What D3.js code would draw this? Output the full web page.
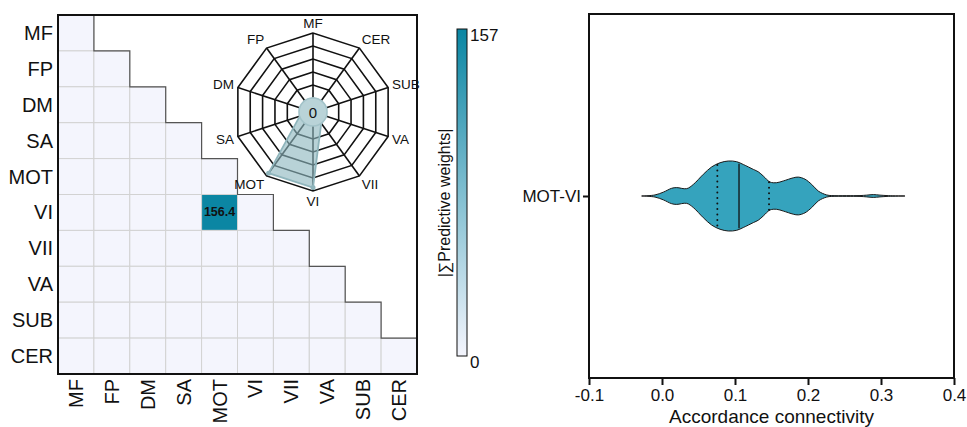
<!DOCTYPE html>
<html>
<head>
<meta charset="utf-8">
<script src="https://cdn.jsdelivr.net/npm/d3@7"></script>
<style>
  html, body { margin: 0; padding: 0; background: #fff; }
  svg { display: block; font-family: "Liberation Sans", Arial, sans-serif; }
</style>
</head>
<body>
<svg id="chart" width="967" height="427"></svg>
<script>
// ---------- DATA ----------
const networks = ["MF", "FP", "DM", "SA", "MOT", "VI", "VII", "VA", "SUB", "CER"];
// lower-triangle summed |predictive weights| (row, col), only MOT–VI non-zero
const weightRows = [
  [0],
  [0, 0],
  [0, 0, 0],
  [0, 0, 0, 0],
  [0, 0, 0, 0, 0],
  [0, 0, 0, 0, 156.4, 0],
  [0, 0, 0, 0, 0, 0, 0],
  [0, 0, 0, 0, 0, 0, 0, 0],
  [0, 0, 0, 0, 0, 0, 0, 0, 0],
  [0, 0, 0, 0, 0, 0, 0, 0, 0, 0]
];
const colorbarMax = 157;
const colorbarTicks = [0, 157];
const radarMax = 165;
const radarRings = 5;

// violin (MOT-VI accordance connectivity), density profile
const violinLabel = "MOT-VI";
const violinX = [-0.0279, -0.0096, 0.0018, 0.0132, 0.0201, 0.0338, 0.0429, 0.0566, 0.0680, 0.0795,
  0.0909, 0.1023, 0.1114, 0.1251, 0.1320, 0.1388, 0.1479, 0.1571, 0.1662, 0.1799, 0.1868, 0.1959,
  0.2051, 0.2142, 0.2256, 0.2325, 0.2530, 0.2712, 0.2804, 0.2895, 0.2986, 0.3100, 0.3329];
const violinDensity = [0, 0.03, 0.11, 0.22, 0.24, 0.21, 0.33, 0.62, 0.83, 0.95,
  1.0, 0.98, 0.90, 0.76, 0.69, 0.57, 0.40, 0.38, 0.43, 0.52, 0.54, 0.48,
  0.33, 0.14, 0.03, 0.012, 0.01, 0.012, 0.025, 0.04, 0.025, 0.01, 0];
const violinQ1 = 0.0758, violinMedian = 0.1055, violinQ3 = 0.1466;
const xTicks = [-0.1, 0.0, 0.1, 0.2, 0.3, 0.4];
const xLabel = "Accordance connectivity";
const colorbarTitle = "|∑Predictive weights|";

// ---------- DRAW ----------
const svg = d3.select("#chart");
const n = networks.length;

// Heatmap
const hm = { left: 58, top: 15, size: 359 };
const band = d3.scaleBand().domain(networks).range([0, hm.size]);
const cw = band.bandwidth();
const color = d3.scaleLinear().domain([0, colorbarMax]).range(["#f4f5fd", "#0a86a3"]);

const gH = svg.append("g").attr("transform", `translate(${hm.left},${hm.top})`);
const cells = [];
weightRows.forEach((row, i) => row.forEach((v, j) => cells.push({ r: networks[i], c: networks[j], v })));

gH.selectAll("rect.cell").data(cells).join("rect")
  .attr("x", d => band(d.c)).attr("y", d => band(d.r))
  .attr("width", cw).attr("height", cw)
  .attr("fill", d => color(d.v))
  .attr("stroke", "#d2d2d2").attr("stroke-width", 1);

// staircase boundary
let stair = `M${band(networks[0]) + cw},0`;
networks.forEach((name, i) => {
  const x = band(name) + cw;
  const y = band(name) + cw;
  stair += ` L${x},${y}`;
  if (i < n - 1) stair += ` L${x + cw},${y}`;
});
gH.append("path").attr("d", stair).attr("fill", "none").attr("stroke", "#555").attr("stroke-width", 1.2);

gH.selectAll("text.val").data(cells.filter(d => d.v > 0)).join("text")
  .attr("x", d => band(d.c) + cw / 2).attr("y", d => band(d.r) + cw / 2)
  .attr("text-anchor", "middle").attr("dominant-baseline", "central")
  .attr("font-size", 12.5).attr("font-weight", "bold").attr("fill", "#111")
  .text(d => d.v.toFixed(1));

// row labels
gH.selectAll("text.rl").data(networks).join("text")
  .attr("x", -5).attr("y", d => band(d) + cw / 2)
  .attr("text-anchor", "end").attr("dominant-baseline", "central")
  .attr("font-size", 20).attr("fill", "#111").text(d => d);
// column labels
gH.selectAll("text.cl").data(networks).join("text")
  .attr("transform", d => `translate(${band(d) + cw / 2},${hm.size + 5}) rotate(-90)`)
  .attr("text-anchor", "end").attr("dominant-baseline", "central")
  .attr("font-size", 20).attr("fill", "#111").text(d => d);

gH.append("rect").attr("width", hm.size).attr("height", hm.size)
  .attr("fill", "none").attr("stroke", "#111").attr("stroke-width", 2);

// Radar inset
const rc = { x: 313, y: 112, rIn: 14, rOut: 79 };
const rScale = d3.scaleLinear().domain([0, radarMax]).range([rc.rIn, rc.rOut]);
const netTotals = networks.map((name, k) => {
  let s = 0;
  weightRows.forEach((row, i) => row.forEach((v, j) => { if (i === k || j === k) s += v; }));
  return s;
});
const ang = k => -k * 2 * Math.PI / n; // counter-clockwise from top
const pt = (k, r) => [rc.x + r * Math.sin(ang(k)), rc.y - r * Math.cos(ang(k))];
const gR = svg.append("g");
const line = d3.line().curve(d3.curveLinearClosed);
const ringVals = d3.range(1, radarRings + 1).map(i => radarMax * i / radarRings);
ringVals.forEach(v => {
  gR.append("path").attr("d", line(networks.map((_, k) => pt(k, rScale(v)))))
    .attr("fill", "none").attr("stroke", "#111").attr("stroke-width", 1.6);
});
networks.forEach((_, k) => {
  const a = pt(k, rScale(0)), b = pt(k, rScale(radarMax));
  gR.append("line").attr("x1", a[0]).attr("y1", a[1]).attr("x2", b[0]).attr("y2", b[1])
    .attr("stroke", "#111").attr("stroke-width", 1.6);
});
gR.append("path").attr("d", line(netTotals.map((v, k) => pt(k, rScale(v)))))
  .attr("fill", "#8db7bf").attr("fill-opacity", 0.62)
  .attr("stroke", "#8fb5bc").attr("stroke-width", 1.8);
netTotals.forEach((v, k) => {
  if (v > 0) {
    const p = pt(k, rScale(v));
    gR.append("circle").attr("cx", p[0]).attr("cy", p[1]).attr("r", 2.5).attr("fill", "#8fb5bc");
  }
});
gR.append("circle").attr("cx", rc.x).attr("cy", rc.y).attr("r", rc.rIn)
  .attr("fill", "#b9d3d8").attr("stroke", "#a3c3c9").attr("stroke-width", 1.5);
gR.append("text").attr("x", rc.x).attr("y", rc.y).attr("text-anchor", "middle")
  .attr("dominant-baseline", "central").attr("font-size", 15).attr("fill", "#111").text("0");
networks.forEach((name, k) => {
  const s = Math.sin(ang(k)), c = Math.cos(ang(k));
  const p = pt(k, rc.rOut + 4);
  gR.append("text").attr("x", p[0]).attr("y", p[1] - c * 6)
    .attr("text-anchor", s > 0.2 ? "start" : (s < -0.2 ? "end" : "middle"))
    .attr("dominant-baseline", "central")
    .attr("font-size", 13.5).attr("fill", "#111").text(name);
});

// Colorbar
const cb = { x: 457, y: 29, w: 10, h: 327 };
const defs = svg.append("defs");
const grad = defs.append("linearGradient").attr("id", "cbgrad")
  .attr("x1", 0).attr("y1", 1).attr("x2", 0).attr("y2", 0);
d3.range(0, 1.0001, 0.1).forEach(t => grad.append("stop")
  .attr("offset", t).attr("stop-color", color(t * colorbarMax)));
svg.append("rect").attr("x", cb.x).attr("y", cb.y).attr("width", cb.w).attr("height", cb.h)
  .attr("fill", "url(#cbgrad)").attr("stroke", "#111").attr("stroke-width", 1);
const cbScale = d3.scaleLinear().domain([0, colorbarMax]).range([cb.y + cb.h, cb.y]);
colorbarTicks.forEach(t => {
  svg.append("text").attr("x", cb.x + cb.w + 3).attr("y", cbScale(t) + 12)
    .attr("font-size", 17).attr("fill", "#111").text(t);
});
svg.append("text").attr("transform", `translate(450,203) rotate(-90)`)
  .attr("text-anchor", "middle").attr("font-size", 16).attr("fill", "#111").text(colorbarTitle);

// Violin
const vp = { left: 589, right: 954, top: 14, bottom: 378 };
const x = d3.scaleLinear().domain([-0.1, 0.4]).range([vp.left, vp.right]);
const y = d3.scalePoint().domain([violinLabel]).range([vp.top, vp.bottom]).padding(0.5);
const wScale = d3.scaleLinear().domain([0, 1]).range([0, 35]);
const gV = svg.append("g");
const cy = y(violinLabel);
const vdata = violinX.map((xv, i) => ({ x: xv, d: violinDensity[i] }));
const area = d3.area().curve(d3.curveCatmullRom)
  .x(d => x(d.x)).y0(d => cy + wScale(d.d)).y1(d => cy - wScale(d.d));
gV.append("path").datum(vdata).attr("d", area)
  .attr("fill", "#35a3bd").attr("stroke", "#1a1a1a").attr("stroke-width", 1);
const densAt = d3.scaleLinear().domain(violinX).range(violinDensity);
[[violinQ1, true], [violinMedian, false], [violinQ3, true]].forEach(([q, dotted]) => {
  const h = wScale(densAt(q)) - 1;
  const l = gV.append("line").attr("x1", x(q)).attr("x2", x(q))
    .attr("y1", cy - h).attr("y2", cy + h)
    .attr("stroke", "#111").attr("stroke-width", dotted ? 2 : 1.3);
  if (dotted) l.attr("stroke-linecap", "round").attr("stroke-dasharray", "0,5.5");
});
gV.append("rect").attr("x", vp.left).attr("y", vp.top)
  .attr("width", vp.right - vp.left).attr("height", vp.bottom - vp.top)
  .attr("fill", "none").attr("stroke", "#111").attr("stroke-width", 2);

const xAxis = d3.axisBottom(x).tickValues(xTicks).tickSize(7).tickSizeOuter(0).tickFormat(d3.format(".1f"));
const gx = svg.append("g").attr("transform", `translate(0,${vp.bottom})`).call(xAxis);
gx.select(".domain").remove();
gx.selectAll(".tick line").attr("stroke", "#111").attr("stroke-width", 2);
gx.selectAll(".tick text").attr("font-size", 17).attr("fill", "#111")
  .attr("font-family", "Liberation Sans, Arial, sans-serif").attr("dy", "0.76em")
  .text(d => d3.format(".1f")(d).replace("−", "-"));
svg.append("text").attr("x", (vp.left + vp.right) / 2).attr("y", 423)
  .attr("text-anchor", "middle").attr("font-size", 19).attr("fill", "#111").text(xLabel);

const yAxis = d3.axisLeft(y).tickSize(6).tickSizeOuter(0);
const gy = svg.append("g").attr("transform", `translate(${vp.left},0)`).call(yAxis);
gy.select(".domain").remove();
gy.selectAll(".tick line").attr("stroke", "#111").attr("stroke-width", 2);
gy.selectAll(".tick text").attr("font-size", 17).attr("fill", "#111")
  .attr("font-family", "Liberation Sans, Arial, sans-serif").attr("x", -8);
</script>
</body>
</html>
